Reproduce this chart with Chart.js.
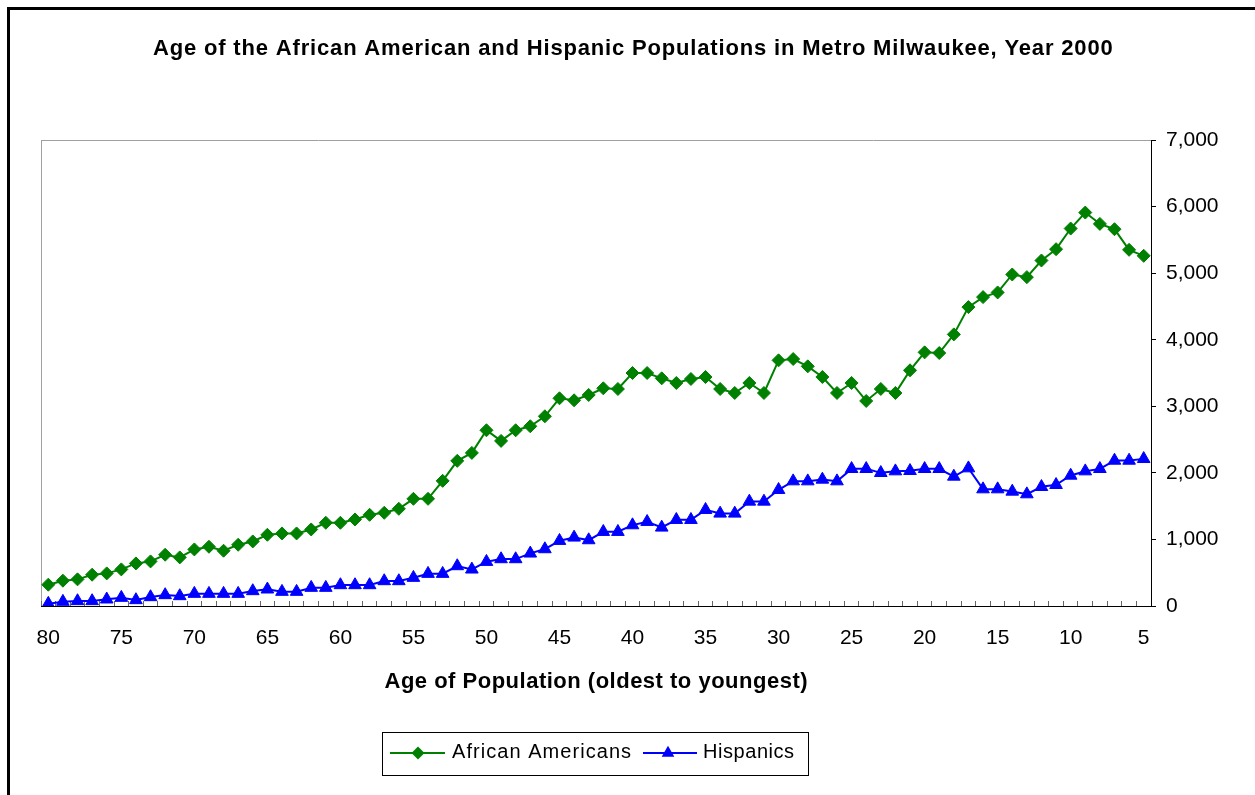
<!DOCTYPE html>
<html><head><meta charset="utf-8">
<script src="https://cdn.jsdelivr.net/npm/chart.js@4.4.0/dist/chart.umd.min.js"></script>
<style>
html,body{margin:0;padding:0;background:#fff;overflow:hidden;}
#wrap{position:relative;width:1255px;height:795px;}
#frame{position:absolute;left:7px;top:7px;width:2000px;height:2000px;border:3px solid #000;pointer-events:none;}
</style></head>
<body><div id="wrap"><canvas id="c" width="1255" height="795"></canvas><div id="frame"></div></div>
<script>
const ages = [80,79,78,77,76,75,74,73,72,71,70,69,68,67,66,65,64,63,62,61,60,59,58,57,56,55,54,53,52,51,50,49,48,47,46,45,44,43,42,41,40,39,38,37,36,35,34,33,32,31,30,29,28,27,26,25,24,23,22,21,20,19,18,17,16,15,14,13,12,11,10,9,8,7,6,5];
const africanAmericans = [320,380,400,470,490,550,640,670,770,730,850,890,830,920,970,1070,1090,1090,1150,1250,1250,1300,1370,1400,1460,1610,1610,1880,2180,2300,2640,2480,2640,2700,2850,3120,3090,3170,3270,3260,3500,3500,3420,3350,3410,3440,3260,3200,3350,3200,3690,3710,3600,3440,3200,3350,3080,3260,3200,3540,3810,3800,4080,4490,4640,4710,4980,4940,5190,5360,5670,5910,5740,5660,5350,5260];
const hispanics = [35,65,75,75,100,125,90,135,165,150,185,185,185,185,225,250,215,215,275,275,315,315,315,375,375,425,485,485,600,550,665,705,705,790,855,980,1030,990,1115,1115,1215,1265,1180,1295,1295,1445,1390,1390,1570,1570,1745,1875,1875,1900,1875,2060,2060,2000,2025,2030,2060,2060,1945,2070,1755,1755,1720,1680,1790,1820,1960,2025,2060,2185,2185,2210];
const xTickLabels = [80,75,70,65,60,55,50,45,40,35,30,25,20,15,10,5];
const yTickValues = [0,1000,2000,3000,4000,5000,6000,7000];
const seriesNames = ['African Americans','Hispanics'];
const chartTitle = 'Age of the African American and Hispanic Populations in Metro Milwaukee, Year 2000';
const xAxisTitle = 'Age of Population (oldest to youngest)';

const FONT = "'Liberation Sans', Arial, sans-serif";

function markerPath(ctx, style, x, y, r) {
  ctx.beginPath();
  if (style === 'rectRot') {
    ctx.moveTo(x, y - r); ctx.lineTo(x + r, y); ctx.lineTo(x, y + r); ctx.lineTo(x - r, y);
  } else {
    const h = Math.sqrt(3) / 2 * r;
    ctx.moveTo(x, y - r); ctx.lineTo(x + h, y + r / 2); ctx.lineTo(x - h, y + r / 2);
  }
  ctx.closePath();
}

function spacedText(ctx, text, cx, baseline, font, targetWidth) {
  ctx.save();
  ctx.font = font;
  ctx.fillStyle = '#000';
  ctx.textBaseline = 'alphabetic';
  ctx.textAlign = 'left';
  try { ctx.letterSpacing = '0px'; } catch (e) {}
  const w = ctx.measureText(text).width;
  const sp = Math.max(0, (targetWidth - w) / (text.length - 1));
  try { ctx.letterSpacing = sp.toFixed(2) + 'px'; } catch (e) {}
  ctx.fillText(text, cx - targetWidth / 2, baseline);
  ctx.restore();
}

const textAndLegend = {
  id: 'textAndLegend',
  afterDraw(chart) {
    const ctx = chart.ctx;
    const ca = chart.chartArea;
    spacedText(ctx, chartTitle, 633, 54.5, 'bold 22px ' + FONT, 960);
    spacedText(ctx, xAxisTitle, (ca.left + ca.right) / 2, 688, 'bold 22px ' + FONT, 423);

    ctx.save();
    ctx.strokeStyle = '#000';
    ctx.lineWidth = 1;
    ctx.strokeRect(382.5, 732.5, 426, 43);
    const items = [
      {lx1: 390, lx2: 445, mx: 418, tx: 452, sp: '1.05px'},
      {lx1: 643, lx2: 697, mx: 668, tx: 703, sp: '0.55px'}
    ];
    const ly = 753;
    chart.data.datasets.forEach((ds, i) => {
      const it = items[i];
      ctx.strokeStyle = ds.borderColor;
      ctx.lineWidth = 2;
      ctx.beginPath(); ctx.moveTo(it.lx1, ly); ctx.lineTo(it.lx2, ly); ctx.stroke();
      ctx.fillStyle = ds.pointBackgroundColor;
      markerPath(ctx, ds.pointStyle, it.mx, ly, ds.pointRadius);
      ctx.fill();
      ctx.fillStyle = '#000';
      ctx.font = '20px ' + FONT;
      ctx.textBaseline = 'alphabetic';
      ctx.textAlign = 'left';
      try { ctx.letterSpacing = it.sp; } catch (e) {}
      ctx.fillText(ds.label, it.tx, 758);
    });
    ctx.restore();
  }
};

new Chart(document.getElementById('c'), {
  type: 'line',
  data: {
    labels: ages,
    datasets: [
      {
        label: seriesNames[0],
        data: africanAmericans,
        borderColor: '#008000',
        backgroundColor: '#008000',
        pointBackgroundColor: '#008000',
        pointBorderColor: '#008000',
        pointStyle: 'rectRot',
        pointRadius: 6.5,
        pointBorderWidth: 1,
        borderWidth: 2,
        tension: 0,
        fill: false
      },
      {
        label: seriesNames[1],
        data: hispanics,
        borderColor: '#0000FF',
        backgroundColor: '#0000FF',
        pointBackgroundColor: '#0000FF',
        pointBorderColor: '#0000FF',
        pointStyle: 'triangle',
        pointRadius: 7.3,
        pointBorderWidth: 1,
        borderWidth: 2,
        tension: 0,
        fill: false
      }
    ]
  },
  options: {
    responsive: false,
    animation: false,
    devicePixelRatio: 1,
    layout: {padding: {left: 41, top: 140, right: 0, bottom: 0}},
    plugins: {
      legend: {display: false},
      tooltip: {enabled: false},
      title: {display: false}
    },
    scales: {
      x: {
        type: 'category',
        offset: true,
        grid: {
          offset: true,
          drawOnChartArea: true,
          drawTicks: true,
          tickLength: -5,
          color: (c) => c.index === 0 ? '#a0a0a0' : 'rgba(0,0,0,0)',
          tickColor: '#666',
          lineWidth: 1
        },
        border: {display: true, color: '#000', width: 1},
        ticks: {
          autoSkip: false,
          maxRotation: 0,
          minRotation: 0,
          padding: 25,
          color: '#000',
          font: {family: FONT, size: 21},
          callback: function(val, idx) {
            const a = ages[idx];
            return xTickLabels.includes(a) ? String(a) : '';
          }
        },
        afterFit: (s) => { s.height = 795 - 606; }
      },
      y: {
        position: 'right',
        min: 0,
        max: 7000,
        afterBuildTicks: (s) => { s.ticks = yTickValues.map(v => ({value: v})); },
        grid: {
          drawOnChartArea: true,
          drawTicks: true,
          tickLength: 5,
          color: (c) => (c.tick && c.tick.value === 7000) ? '#a0a0a0' : 'rgba(0,0,0,0)',
          tickColor: '#000'
        },
        border: {display: true, color: '#000', width: 1},
        ticks: {
          padding: 10,
          color: '#000',
          font: {family: FONT, size: 21},
          callback: (v) => Number(v).toLocaleString('en-US')
        },
        afterFit: (s) => { s.width = 1255 - 1151; }
      }
    }
  },
  plugins: [textAndLegend]
});
</script>
</body></html>
